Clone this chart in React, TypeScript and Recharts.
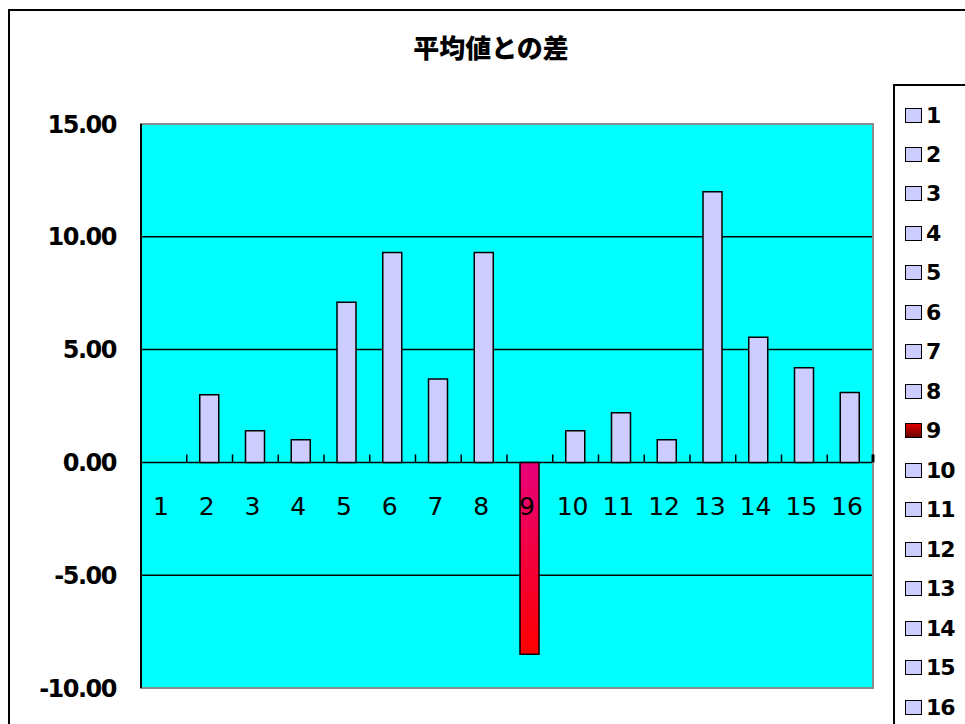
import React from "react";
import { BarChart, Bar, XAxis, YAxis, CartesianGrid, ReferenceArea, Cell } from "recharts";

const TITLE = "平均値との差";
const CATEGORIES = ["1", "2", "3", "4", "5", "6", "7", "8", "9", "10", "11", "12", "13", "14", "15", "16"];
const DIFFS = [0, 3.0, 1.4, 1.0, 7.1, 9.3, 3.7, 9.3, -8.5, 1.4, 2.2, 1.0, 12.0, 5.55, 4.2, 3.1];
const Y_TICKS = [-10, -5, 0, 5, 10, 15];
const HIGHLIGHT = "9";

const W = 965;
const H = 724;
const PLOT_LEFT = 141;
const PLOT_RIGHT = 873;
const PLOT_TOP = 124;
const PLOT_BOTTOM = 688;
const Y_MIN = Y_TICKS[0];
const Y_MAX = Y_TICKS[Y_TICKS.length - 1];
const X_AXIS_H = 20;

const PLOT_W = PLOT_RIGHT - PLOT_LEFT;
const PLOT_H = PLOT_BOTTOM - PLOT_TOP;
const BAND = PLOT_W / CATEGORIES.length;
// the category axis crosses at zero, not at the bottom of the plot
const ZERO_Y = PLOT_TOP + (PLOT_H * Y_MAX) / (Y_MAX - Y_MIN);

const data = CATEGORIES.map((name, i) => ({ name, diff: DIFFS[i] }));

const renderCategoryTick = (props: any) => {
  const { x, payload, index } = props;
  const last = index === CATEGORIES.length - 1;
  return (
    <g key={`t-${index}`}>
      <line x1={x - BAND / 2} x2={x - BAND / 2} y1={ZERO_Y} y2={ZERO_Y - 8} stroke="#000" strokeWidth={1.5} />
      {last && <line x1={x + BAND / 2} x2={x + BAND / 2} y1={ZERO_Y} y2={ZERO_Y - 8} stroke="#000" strokeWidth={3} />}
      <text
        x={x - 3}
        y={ZERO_Y + 44}
        textAnchor="middle"
        dominantBaseline="central"
        fontFamily="DejaVu Sans"
        fontSize={25}
        fill="#000"
      >
        {payload.value}
      </text>
    </g>
  );
};

function LegendBox() {
  return (
    <div
      style={{
        position: "absolute",
        left: 893,
        top: 84,
        width: 90,
        height: 660,
        border: "2px solid #000",
        boxSizing: "border-box",
        background: "#fff",
      }}
    >
      {CATEGORIES.map((c, i) => (
        <div
          key={c}
          style={{
            position: "absolute",
            left: 10,
            top: 29 + i * 39.47 - 12,
            height: 24,
            display: "flex",
            alignItems: "center",
            fontFamily: "DejaVu Sans",
            fontWeight: 700,
            fontSize: 22,
            letterSpacing: -1,
          }}
        >
          <span
            style={{
              display: "inline-block",
              width: 15,
              height: 13,
              border: "1.5px solid #000",
              marginRight: 4,
              background: c === HIGHLIGHT ? "linear-gradient(#e00000, #6a0000)" : "#ccccff",
            }}
          />
          {c}
        </div>
      ))}
    </div>
  );
}

export default function App() {
  return (
    <div style={{ position: "absolute", left: 0, top: 0, width: W, height: H, overflow: "hidden", background: "#fff" }}>
      <div
        style={{
          position: "absolute",
          left: 8,
          top: 9,
          width: W + 40,
          height: H + 40,
          border: "2.5px solid #000",
          boxSizing: "border-box",
        }}
      />
      <div
        style={{
          position: "absolute",
          left: 0,
          width: 982,
          top: 30,
          textAlign: "center",
          fontFamily: "Noto Sans CJK JP",
          fontWeight: 900,
          fontSize: 26,
          lineHeight: "34px",
        }}
      >
        {TITLE}
      </div>
      <div style={{ position: "absolute", left: 0, top: 0 }}>
        <BarChart
          width={W}
          height={H}
          data={data}
          margin={{ top: PLOT_TOP, right: W - PLOT_RIGHT, bottom: H - PLOT_BOTTOM - X_AXIS_H, left: 0 }}
        >
          <defs>
            <linearGradient id="negGrad" x1="0" y1="0" x2="0" y2="1">
              <stop offset="0%" stopColor="#e8007a" />
              <stop offset="100%" stopColor="#ff0000" />
            </linearGradient>
          </defs>
          <CartesianGrid vertical={false} stroke="#000" strokeWidth={1.5} fill="#00ffff" fillOpacity={1} />
          <XAxis
            dataKey="name"
            height={X_AXIS_H}
            axisLine={false}
            tickLine={false}
            interval={0}
            tick={renderCategoryTick}
          />
          <YAxis
            width={PLOT_LEFT}
            domain={[Y_MIN, Y_MAX]}
            ticks={Y_TICKS}
            interval={0}
            tickFormatter={(v: number) => v.toFixed(2)}
            tickLine={false}
            tickSize={0}
            tickMargin={25}
            axisLine={{ stroke: "#000", strokeWidth: 2 }}
            tick={{ fill: "#000", fontSize: 24, fontWeight: 700, fontFamily: "DejaVu Sans", letterSpacing: -1.5 }}
          />
          <Bar dataKey="diff" barSize={19} stroke="#000" strokeWidth={1.5} isAnimationActive={false}>
            {data.map((d) => (
              <Cell key={d.name} fill={d.name === HIGHLIGHT ? "url(#negGrad)" : "#ccccff"} />
            ))}
          </Bar>
          <ReferenceArea y1={Y_MIN} y2={Y_MAX} fill="none" stroke="#8c8c8c" strokeWidth={2} ifOverflow="visible" />
        </BarChart>
      </div>
      <LegendBox />
    </div>
  );
}
